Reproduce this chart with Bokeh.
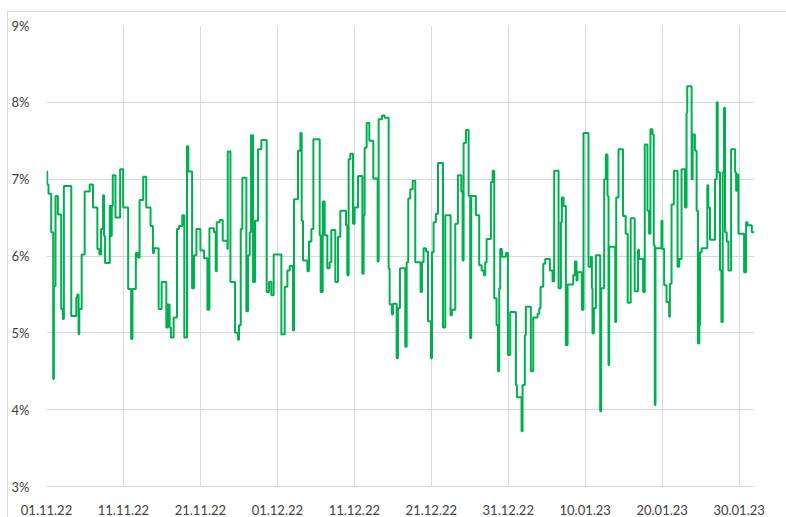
from datetime import datetime, timedelta
from bokeh.plotting import figure
from bokeh.models import FixedTicker, DatetimeTickFormatter, PrintfTickFormatter, Range1d
from bokeh.embed import file_html
from bokeh.resources import INLINE

# ---- data -------------------------------------------------------------
start_date = "01.11.22"
end_date = "01.02.23"

# step start, in days after 01.11.22
day_offsets = [
    0.0, 0.09, 0.26, 0.61, 0.87, 0.96, 1.17, 1.48, 1.91, 2.13,
    2.26, 3.22, 3.87, 4.0, 4.17, 4.26, 4.57, 4.96, 5.61, 6.04,
    6.61, 6.87, 7.09, 7.35, 7.48, 7.61, 8.22, 8.35, 8.48, 8.61,
    8.96, 9.57, 9.96, 10.61, 11.0, 11.17, 11.61, 11.87, 12.09, 12.57,
    12.96, 13.52, 13.83, 13.96, 14.57, 14.96, 15.57, 15.74, 16.0, 16.17,
    16.52, 16.96, 17.22, 17.65, 17.91, 18.26, 18.43,
    18.92, 19.18, 19.48, 20.0, 20.48, 20.91, 21.17, 21.77, 21.99, 22.12,
    22.51, 22.9, 23.51, 23.55, 23.9, 24.5, 24.89, 25.02, 25.24, 25.45,
    25.97, 26.19, 26.41, 26.58, 26.84, 27.1, 27.49, 27.92, 28.61, 28.92,
    29.22, 29.52, 30.52, 30.95, 31.3, 31.6, 32.03, 32.16, 32.68, 32.99,
    33.16, 33.33, 33.9, 34.11, 34.42, 34.68, 35.5, 35.63, 35.89, 36.15,
    36.49, 36.8, 37.01,
    37.53, 37.88, 38.18, 38.92, 39.09, 39.26, 39.48, 39.83, 40.04, 40.48,
    41.04, 41.21, 41.34, 41.6, 41.95, 42.47, 43.03, 43.16, 43.59, 43.94,
    44.46, 44.59, 44.89, 45.02, 45.5, 45.67, 45.93, 46.62, 46.8, 47.01,
    47.27, 47.58, 47.92, 48.61, 48.79, 49.0, 49.31, 49.57, 49.96, 50.09,
    50.3, 50.6, 50.87, 51.52, 51.82, 52.51, 52.68, 53.12, 53.46, 53.9,
    54.07, 54.2, 54.5, 54.85, 55.06, 55.19, 55.8,
    56.23, 56.54, 56.84, 57.01, 57.19, 57.75, 57.97, 58.18, 58.48, 58.66,
    58.83, 58.96, 59.18, 59.7, 59.96, 60.26, 61.0, 61.13, 61.73, 61.86,
    62.16, 62.29, 62.94, 63.25, 63.81, 64.03, 64.2, 64.55, 64.81, 65.41,
    65.76, 65.97, 66.54, 66.84, 66.97, 67.19, 67.49, 67.71, 68.44, 68.66,
    68.87, 69.0, 69.57, 69.78, 70.43, 70.74, 70.87, 70.95, 71.13, 71.39,
    71.95, 72.08, 72.47, 72.68, 72.9, 73.03, 73.12, 73.9, 74.03, 74.33,
    74.91, 75.26, 75.52, 75.91, 76.43, 76.87, 77.0, 77.52, 77.74, 78.09,
    78.3, 78.48, 78.74, 78.91, 79.04, 79.13, 79.91, 80.04, 80.26, 80.57,
    80.91, 81.0, 81.22, 81.52, 82.0, 82.22, 82.52, 82.96, 83.17, 83.26,
    83.83, 83.96, 84.26, 84.48, 84.65, 84.83, 84.91, 85.13, 85.87, 86.0,
    86.22, 86.87, 87.09, 87.22, 87.52, 87.7, 87.87, 88.04, 88.17, 88.39,
    88.61, 88.96, 89.48, 89.61, 89.78, 89.91, 90.65, 90.91, 91.09, 91.65,
    92.0,
]

# rate, %
rates = [
    7.10, 6.93, 6.81, 6.31, 4.40, 5.61, 6.78, 6.54, 5.31, 5.18,
    6.91, 5.22, 5.46, 5.50, 4.98, 5.31, 6.02, 6.84, 6.93, 6.63,
    6.09, 6.02, 6.35, 6.79, 6.26, 5.91, 6.65, 6.26, 6.65, 7.05,
    6.50, 7.13, 6.63, 5.57, 4.92, 5.57, 6.04, 5.98, 6.73, 7.03,
    6.63, 6.39, 6.04, 6.10, 5.31, 5.66, 5.07, 5.37, 5.07, 4.94,
    5.20, 6.35, 6.39, 6.53, 4.94, 7.43, 7.10,
    5.58, 6.01, 6.35, 6.07, 5.97, 5.30, 6.36, 6.31, 5.80, 6.44,
    6.47, 6.20, 6.09, 7.36, 5.66, 5.00, 4.91, 5.10, 6.35, 7.02,
    5.28, 6.01, 6.31, 7.57, 5.66, 6.46, 7.39, 7.51, 5.53, 5.66,
    5.49, 6.02, 4.98, 5.60, 5.81, 5.87, 5.03, 6.74, 7.37, 7.60,
    6.46, 5.94, 5.80, 6.19, 6.35, 7.52, 6.27, 5.53, 6.71, 6.27,
    5.84, 5.92, 6.34,
    5.66, 6.25, 6.59, 6.40, 5.75, 7.26, 7.33, 6.42, 6.63, 7.04,
    5.77, 6.53, 7.41, 7.73, 7.50, 7.01, 5.93, 7.78, 7.83, 7.80,
    5.84, 5.37, 5.24, 5.38, 4.67, 5.32, 5.84, 4.82, 5.92, 6.75,
    6.87, 6.98, 5.92, 5.53, 5.92, 6.10, 6.06, 5.15, 4.67, 6.05,
    6.44, 6.55, 7.21, 5.07, 6.53, 5.23, 5.30, 6.42, 7.05, 6.84,
    5.94, 7.47, 7.64, 6.78, 4.93, 6.78, 6.53,
    5.88, 5.81, 5.75, 5.92, 6.22, 6.96, 7.11, 5.45, 5.10, 4.50,
    5.58, 6.09, 5.99, 6.04, 4.71, 5.27, 4.32, 4.16, 3.72, 4.32,
    4.97, 5.34, 4.50, 5.20, 5.25, 5.32, 5.60, 5.90, 5.96, 5.81,
    5.67, 7.11, 5.58, 6.44, 6.76, 6.65, 4.84, 5.63, 5.75, 5.93,
    5.68, 5.79, 5.30, 7.60, 5.86, 5.99, 5.58, 4.99, 5.32, 6.01,
    3.98, 5.58, 7.00, 7.32, 6.78, 4.58, 6.12, 5.14, 6.76, 7.39,
    6.52, 6.29, 5.39, 6.49, 5.54, 6.08, 5.96, 5.53, 7.45, 6.59,
    6.29, 7.65, 7.58, 6.14, 4.06, 6.10, 6.46, 6.09, 5.62, 5.40,
    5.21, 5.64, 6.67, 7.11, 5.86, 5.96, 7.13, 6.63, 7.86, 8.21,
    7.00, 7.58, 7.37, 6.59, 4.86, 5.10, 6.05, 6.10, 6.92, 6.63,
    6.21, 7.00, 8.00, 7.09, 5.81, 5.14, 7.09, 7.93, 6.31, 6.19,
    5.81, 7.39, 7.09, 6.85, 7.06, 6.29, 5.79, 6.44, 6.40, 6.31,
    6.31,
]

x_tick_labels = ["01.11.22", "11.11.22", "21.11.22", "01.12.22", "11.12.22",
                 "21.12.22", "31.12.22", "10.01.23", "20.01.23", "30.01.23"]
y_ticks = [3, 4, 5, 6, 7, 8, 9]

# ---- build ------------------------------------------------------------
fmt = "%d.%m.%y"
t0 = datetime.strptime(start_date, fmt)
t1 = datetime.strptime(end_date, fmt)
xs = [t0 + timedelta(days=d) for d in day_offsets]
ms = lambda d: (d - datetime(1970, 1, 1)).total_seconds() * 1000.0
tick_ms = [ms(datetime.strptime(s, fmt)) for s in x_tick_labels]

GRID = "#d9d9d9"
TEXT = "#404040"
FONT = "Lato"

p = figure(width=786, height=517, x_axis_type="datetime",
           output_backend="svg", toolbar_location=None,
           min_border_left=46, min_border_right=32,
           min_border_top=25, min_border_bottom=29,
           x_range=Range1d(t0, t1), y_range=Range1d(min(y_ticks), max(y_ticks)))
# chart-area border (left and top edges visible)
p.border_fill_color = None
p.styles = {
    "background-color": "white",
    "background-image": "linear-gradient(#d9d9d9, #d9d9d9), linear-gradient(#d9d9d9, #d9d9d9)",
    "background-size": "1px 100%, 100% 1px",
    "background-position": "7px 11px, 7px 11px",
    "background-repeat": "no-repeat",
}
p.background_fill_color = "white"
p.outline_line_color = None

p.step(xs, rates, mode="after", line_color="#00b050", line_width=2)

p.xaxis.ticker = FixedTicker(ticks=tick_ms)
p.xaxis.formatter = DatetimeTickFormatter(days=fmt, months=fmt, years=fmt,
                                          hours=fmt, minutes=fmt)
p.yaxis.ticker = FixedTicker(ticks=y_ticks)
p.yaxis.formatter = PrintfTickFormatter(format="%d%%")

for ax in (p.xaxis[0], p.yaxis[0]):
    ax.major_tick_line_color = None
    ax.minor_tick_line_color = None
    ax.major_label_text_font = FONT
    ax.major_label_text_font_size = "13px"
    ax.major_label_text_color = TEXT
p.xaxis.axis_line_color = GRID
p.yaxis.axis_line_color = None
p.xaxis.major_label_standoff = 12
p.yaxis.major_label_standoff = 11

p.xgrid.grid_line_color = GRID
p.ygrid.grid_line_color = GRID

open("out.html", "w").write(file_html(p, INLINE))
